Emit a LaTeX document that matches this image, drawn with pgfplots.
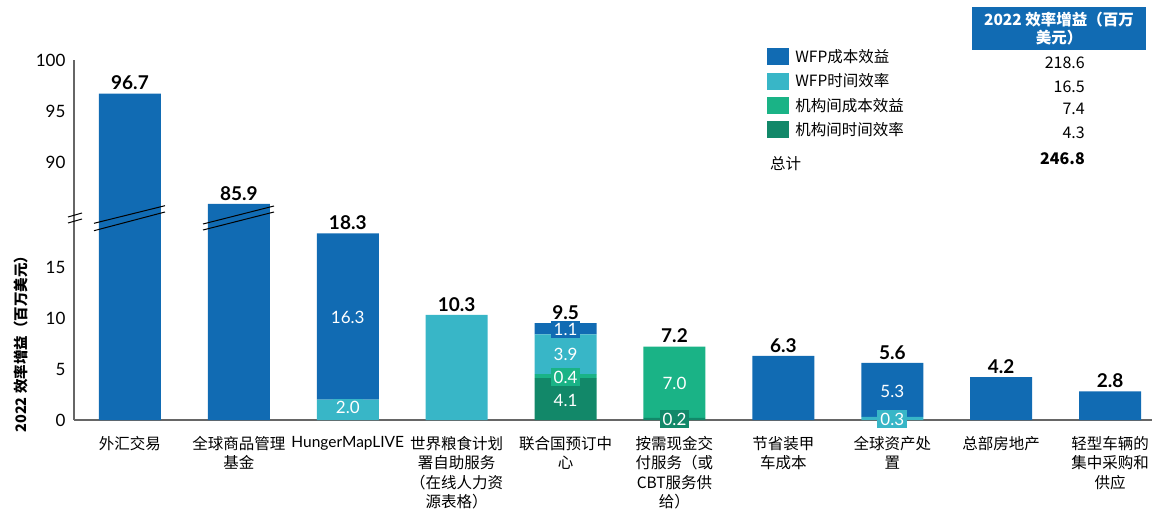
\documentclass[border=0pt]{standalone}
\usepackage{fontspec}
\setmainfont{Lato}
\newfontfamily\cjk{Noto Sans CJK SC}
\usepackage{pgfplots}
\pgfplotsset{compat=1.18}
\definecolor{cA}{HTML}{116BB3}
\definecolor{cB}{HTML}{38B6C7}
\definecolor{cC}{HTML}{1AB386}
\definecolor{cD}{HTML}{128869}
\definecolor{axgray}{HTML}{666666}
\begin{document}
\begin{tikzpicture}
\path[use as bounding box] (0pt,0pt) rectangle (1161pt,-513pt);
\pgfplotsset{
  commonax/.style={
    at={(74pt,-420pt)}, anchor=south west, scale only axis,
    width=1078pt, height=360pt,
    xmin=-0.514, xmax=9.385, ymin=0, ymax=100,
    y coord trafo/.code={\pgfmathparse{##1>50?##1-64.7:##1}},
  }
}
\begin{axis}[commonax,
  ybar stacked, bar width=62pt,
  ytick={0,5,10,15,90,95,100}, yticklabels={0,5,10,15,90,95,100},
  xtick={0,...,9},
  xticklabels={{外汇交易},{全球商品管理\\基金},{\rmfamily HungerMapLIVE},{世界粮食计划\\署自助服务\\（在线人力资\\源表格）},{联合国预订中\\心},{按需现金交\\付服务（或\\CBT服务供\\给）},{节省装甲\\车成本},{全球资产处\\置},{总部房地产},{轻型车辆的\\集中采购和\\供应}},
  xticklabel style={font=\cjk\fontsize{15.5}{19.2}\selectfont, align=center, text depth=0pt, yshift=-13pt},
  yticklabel style={font=\fontsize{17}{17}\selectfont, xshift=-5pt},
  axis lines*=left, axis line style={draw=axgray, line width=1.2pt},
  major tick length=0pt,
  ylabel={\cjk\bfseries 2022 效率增益（百万美元）},
  ylabel style={at={(axis description cs:-0.0493,0.22)}, anchor=center, font=\fontsize{14.5}{14.5}\selectfont},
  reverse legend,
  legend image code/.code={\fill[#1] (0pt,-8.5pt) rectangle (22pt,8.5pt);},
  legend style={at={(0.643,1.033)}, anchor=north west, draw=none, fill=none, inner sep=0pt,
    row sep=7.3pt, column sep=6pt, nodes={inner sep=0pt}, font=\cjk\fontsize{15.5}{15.5}\selectfont},
  legend cell align=left,
]
\addplot[draw=none, fill=cD] coordinates {(0,0) (1,0) (2,0) (3,0) (4,4.1) (5,0.2) (6,0) (7,0) (8,0) (9,0)};
\addplot[draw=none, fill=cC] coordinates {(0,0) (1,0) (2,0) (3,0) (4,0.4) (5,7.0) (6,0) (7,0) (8,0) (9,0)};
\addplot[draw=none, fill=cB] coordinates {(0,0) (1,0) (2,2.0) (3,10.3) (4,3.9) (5,0) (6,0) (7,0.3) (8,0) (9,0)};
\addplot[draw=none, fill=cA] coordinates {(0,96.7) (1,85.9) (2,16.3) (3,0) (4,1.1) (5,0) (6,6.3) (7,5.3) (8,4.2) (9,2.8)};
\legend{机构间时间效率,机构间成本效益,WFP时间效率,WFP成本效益}
\end{axis}
\begin{axis}[commonax, hide axis,
  nodes near coords, point meta=explicit symbolic,
  segl/.style={draw=none, mark=none, nodes near coords style={anchor=center, text=white, fill=#1, inner xsep=3pt, inner ysep=2.5pt, font=\fontsize{17}{17}\selectfont}},
]
\addplot[draw=none, mark=none, nodes near coords style={anchor=south, font=\bfseries\fontsize{19}{19}\selectfont}] table[meta=t] {
x y t
0 96.7 96.7
1 85.9 85.9
2 18.3 18.3
3 10.3 10.3
4 9.5 9.5
5 7.2 7.2
6 6.3 6.3
7 5.6 5.6
8 4.2 4.2
9 2.8 2.8
};
\addplot[segl=cA] table[meta=t] {
x y t
2 10.1 16.3
4 8.9 1.1
7 2.8 5.3
};
\addplot[segl=cB] table[meta=t] {
x y t
2 1.2 2.0
4 6.4 3.9
7 0.1 0.3
};
\addplot[segl=cC] table[meta=t] {
x y t
4 4.2 0.4
5 3.6 7.0
};
\addplot[segl=cD] table[meta=t] {
x y t
4 1.9 4.1
5 0.1 0.2
};
\end{axis}
% axis break marks
\draw[black, line width=1pt] (94pt,-223.3pt) -- (165pt,-205.7pt);
\draw[black, line width=1pt] (94pt,-230.7pt) -- (165pt,-212pt);
\draw[black, line width=1pt] (203pt,-224pt) -- (274pt,-206pt);
\draw[black, line width=1pt] (203pt,-230pt) -- (274pt,-212pt);
\draw[black, line width=1pt] (68pt,-217pt) -- (82pt,-213pt);
\draw[black, line width=1pt] (68pt,-223pt) -- (82pt,-219pt);
% summary table
\node[fill=cA, text=white, minimum width=174pt, minimum height=43pt, inner sep=0pt, align=center,
  font=\cjk\bfseries\fontsize{15.5}{18}\selectfont] at (1059pt,-28.5pt) {2022 效率增益（百万\\美元）};
\begin{scope}[every node/.style={anchor=east, inner sep=0pt, font=\cjk\fontsize{16}{16}\selectfont}]
\node at (1085pt,-63pt) {218.6};
\node at (1085pt,-87pt) {16.5};
\node at (1085pt,-109pt) {7.4};
\node at (1085pt,-133pt) {4.3};
\node[font=\cjk\bfseries\fontsize{16}{16}\selectfont] at (1085pt,-159pt) {246.8};
\end{scope}
\node[anchor=west, inner sep=0pt, font=\cjk\fontsize{15.5}{15.5}\selectfont] at (770pt,-164pt) {总计};
\end{tikzpicture}
\end{document}
